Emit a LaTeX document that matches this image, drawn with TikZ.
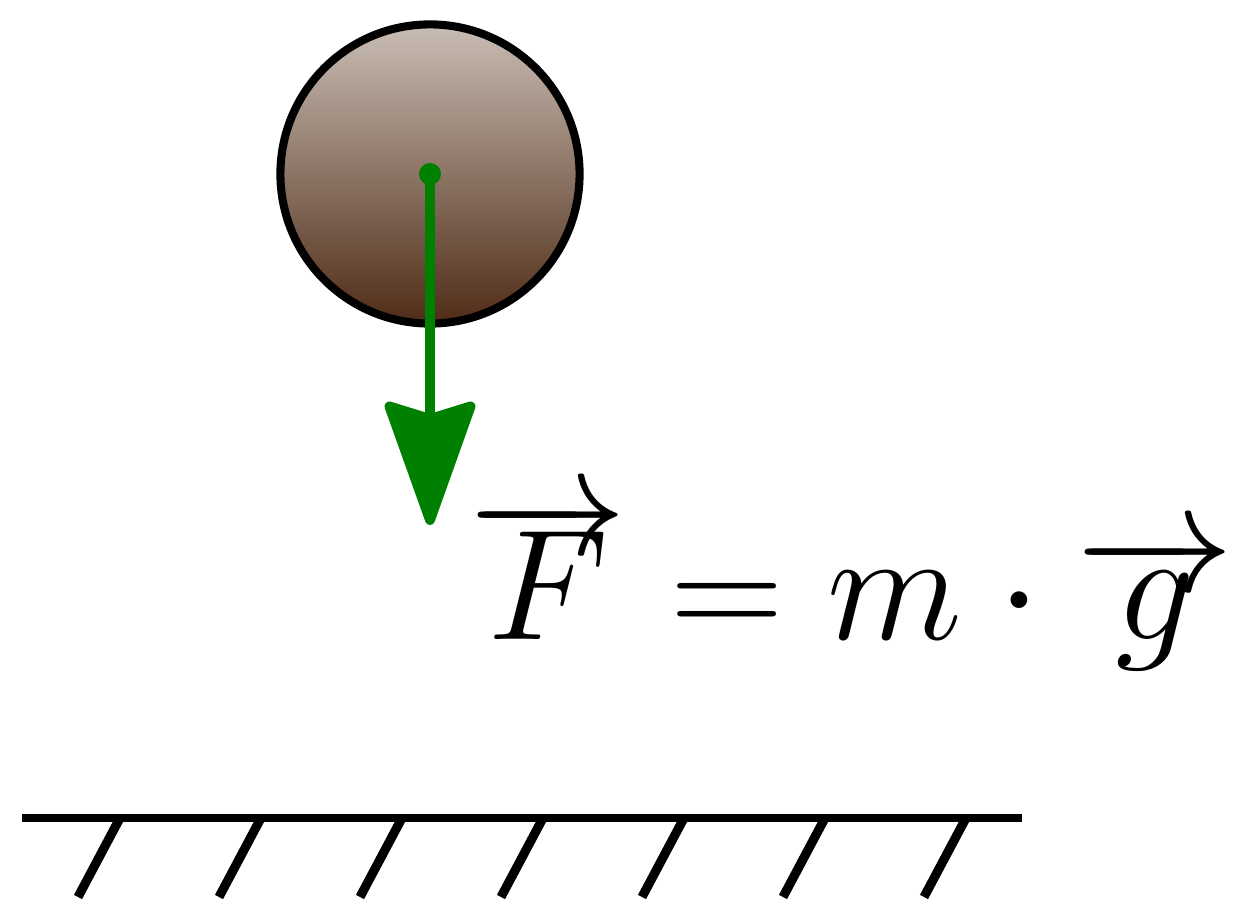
\documentclass[tikz,border=0pt]{standalone}
\usepackage{amsmath}
\usetikzlibrary{arrows.meta, positioning, calc}
\definecolor{Soil}{HTML}{4F2C17}
\definecolor{Sand}{HTML}{C9BDB4}
\definecolor{Force}{HTML}{008000}
\newcommand{\lowvec}[2]{\overrightarrow{\smash[t]{#2}\rule{0pt}{#1}}}
\tikzset{
    ballnode/.style={circle, draw=black, line width=2.3pt, top color=Sand, bottom color=Soil, minimum size=2.99cm, inner sep=0pt},
    forcearrow/.style={-{Stealth[length=1.35cm, width=0.95cm, inset=0.14cm, round]}, line width=2.8pt, color=Force},
    groundline/.style={line width=2.4pt, color=black},
    hatchline/.style={line width=2.6pt, color=black},
}
\begin{document}
\begin{tikzpicture}[x=0.01cm, y=0.01cm]
    \useasboundingbox (0,0) rectangle (1239,910);

    % Ball with its weight
    \node[ballnode] (ball) at (430,736) {};
    \coordinate (tip) at (430,385);
    \draw[forcearrow] (ball.center) -- (tip);
    \fill[Force] (ball.center) circle (11);

    % Law
    \node[anchor=base west, inner sep=0pt, font=\Huge, scale=1.8] (law) at (468,270)
        {$\lowvec{13.5pt}{F} = m \cdot \lowvec{7.7pt}{g}$};

    % Ground
    \coordinate (gl) at (22,92);
    \coordinate (gr) at (1022,92);
    \draw[groundline] (gl) -- (gr);
    \foreach \k in {0,...,6}
        \draw[hatchline] ($(gl)+(98+141*\k,0)$) -- ++(-42,-79);

\end{tikzpicture}
\end{document}
